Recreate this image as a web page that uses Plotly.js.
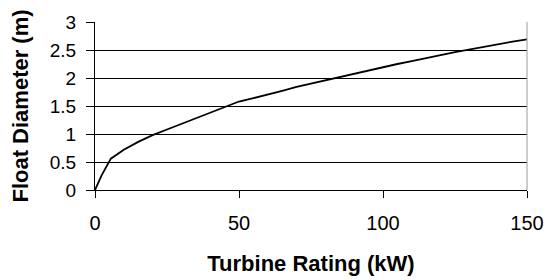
<!DOCTYPE html>
<html>
<head>
<meta charset="utf-8">
<script src="https://cdn.plot.ly/plotly-3.0.1.min.js"></script>
<style>html,body{margin:0;padding:0;background:#fff;}#chart{width:546px;height:280px;}</style>
</head>
<body>
<div id="chart"></div>
<script>
// Turbine rating (kW)
const ratingKW = [0, 2.3, 5.5, 10, 15, 20, 25, 30, 35, 40, 45, 50, 55, 60, 65, 70, 75, 80, 85, 90, 95, 100, 105, 110, 115, 120, 125, 130, 135, 140, 145, 150];
// Float diameter (m)
const floatDiameterM = [0, 0.26, 0.56, 0.72, 0.86, 0.98, 1.08, 1.18, 1.28, 1.38, 1.48, 1.58, 1.64, 1.70, 1.77, 1.84, 1.90, 1.95, 2.01, 2.08, 2.14, 2.19, 2.25, 2.30, 2.36, 2.41, 2.46, 2.51, 2.56, 2.60, 2.65, 2.69];
const xTicks = [0, 50, 100, 150];
const yTicks = [0, 0.5, 1, 1.5, 2, 2.5, 3];
const xTitle = "Turbine Rating (kW)";
const yTitle = "Float Diameter (m)";

const FONT = "Liberation Sans, Arial, sans-serif";

const trace = {
  x: ratingKW, y: floatDiameterM, type: "scatter", mode: "lines",
  line: {color: "#000", width: 1.8}, hoverinfo: "skip"
};

const layout = {
  width: 546, height: 280,
  margin: {l: 95, r: 19, t: 22, b: 90},
  paper_bgcolor: "#fff", plot_bgcolor: "#fff",
  showlegend: false,
  font: {family: FONT, color: "#000"},
  xaxis: {
    range: [0, 150], tickmode: "array", tickvals: xTicks, ticktext: xTicks.map(String),
    showgrid: false, zeroline: false, showline: true, linecolor: "#000", linewidth: 1,
    ticks: "outside", ticklen: 7, tickcolor: "#000", tickwidth: 1,
    ticklabelstandoff: 8,
    tickfont: {size: 20, family: FONT, color: "#000"},
    title: {text: xTitle, font: {size: 22, family: FONT, color: "#000", weight: "bold"}, standoff: 22}
  },
  yaxis: {
    range: [0, 3], tickmode: "array", tickvals: yTicks, ticktext: yTicks.map(String),
    showgrid: true, gridcolor: "#000", gridwidth: 1, zeroline: false,
    showline: true, linecolor: "#000", linewidth: 1,
    ticks: "outside", ticklen: 8, tickcolor: "#000", tickwidth: 1,
    ticklabelstandoff: 6,
    tickfont: {size: 19, family: FONT, color: "#000"},
    title: {text: yTitle, font: {size: 22, family: FONT, color: "#000", weight: "bold"}, standoff: 15}
  },
  shapes: [
    {type: "line", xref: "paper", yref: "paper", x0: 1, x1: 1, y0: 0, y1: 1, line: {color: "#9a9a9a", width: 1}}
  ]
};

Plotly.newPlot("chart", [trace], layout, {staticPlot: true, displayModeBar: false});
</script>
</body>
</html>
